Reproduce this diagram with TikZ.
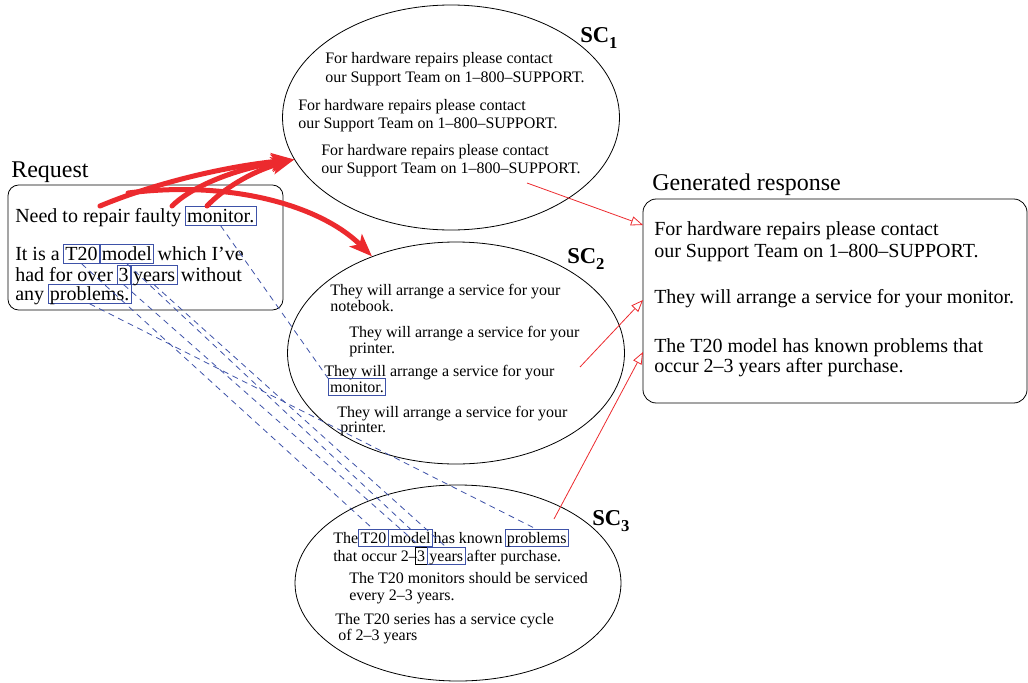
\documentclass[tikz,border=0pt]{standalone}
\usepackage{fontspec}
\setmainfont{Liberation Serif}
\usetikzlibrary{positioning,shapes.geometric,arrows.meta}

\definecolor{kwblue}{RGB}{62,82,168}
\definecolor{hotred}{RGB}{236,42,46}

\newcommand{\reqfont}{\fontsize{15}{16}\selectfont}
\newcommand{\scfont}{\fontsize{12}{13}\selectfont}
\newcommand{\headfont}{\fontsize{18}{20}\selectfont}
\newcommand{\sclabel}[1]{\fontsize{17}{20}\selectfont\bfseries SC\raisebox{-5pt}{\fontsize{12.5}{13}\selectfont #1}}

\tikzset{
  wrd/.style={inner sep=0pt, anchor=base west},
  kw/.style={draw=kwblue, line width=0.6pt, inner xsep=1.3pt, inner ysep=1.5pt, anchor=base west},
  qkw/.style={kw, text height=10.5pt, text depth=1pt},
  skw/.style={kw, text height=8.5pt, text depth=1pt},
  cluster/.style={draw, ellipse, line width=0.6pt, inner sep=0pt},
  panel/.style={draw, rounded corners=8pt, line width=0.6pt, inner sep=0pt},
  pick/.style={hotred, line width=3.75pt, line cap=round, -{Stealth[length=17pt,width=13pt,inset=4pt]}},
  feed/.style={hotred, line width=0.6pt, -{Triangle[open,length=9pt,width=7pt]}},
  match/.style={kwblue, line width=0.6pt, dash pattern=on 4.5pt off 3.5pt}
}

\begin{document}
\begin{tikzpicture}[x=0.75pt, y=-0.75pt]
\useasboundingbox (0,0) rectangle (1028,682);

% sentence clusters
\node (sc1) [cluster, minimum width=252.75pt, minimum height=168.75pt] at (451,117.5) {};
\node (sc2) [cluster, minimum width=252.75pt, minimum height=166.5pt] at (456,353) {};
\node (sc3) [cluster, minimum width=244.5pt, minimum height=147pt] at (458,583) {};
\node (lab1) [wrd] at (580,42) {\sclabel{1}};
\node (lab2) [wrd] at (567,263) {\sclabel{2}};
\node (lab3) [wrd] at (592,525) {\sclabel{3}};

% request and response
\node (req) [panel, minimum width=206.25pt, minimum height=93.75pt] at (145.5,247.5) {};
\node (reqt) [wrd, font=\headfont] at (11,177) {Request};
\node (resp) [panel, rounded corners=10pt, minimum width=288pt, minimum height=153pt] at (835,301) {};
\node (respt) [wrd, font=\headfont] at (652,190) {Generated response};

\begin{scope}[every node/.append style={font=\reqfont}]
\node (q1) [wrd] at (15,222) {Need to repair faulty};
\node (qmon) [qkw, base right=2.5pt of q1] {monitor.};
\node (q2) [wrd] at (15,260) {It is a};
\node (qtw) [qkw, base right=2.5pt of q2] {T20};
\node (qmod) [qkw, base right=0pt of qtw] {model};
\node (q2e) [wrd, base right=2.5pt of qmod] {which I've};
\node (q3) [wrd] at (15,281) {had for over};
\node (qthr) [qkw, base right=2.5pt of q3] {3};
\node (qyrs) [qkw, base right=0pt of qthr] {years};
\node (q3e) [wrd, base right=2.5pt of qyrs] {without};
\node (q4) [wrd] at (15,300) {any};
\node (qprob) [qkw, base right=2.5pt of q4] {problems.};

\node (r1) [wrd] at (654,235) {For hardware repairs please contact};
\node (r2) [wrd] at (654,257) {our Support Team on 1--800--SUPPORT.};
\node (r3) [wrd] at (654,303) {They will arrange a service for your monitor.};
\node (r4) [wrd] at (654,352) {The T20 model has known problems that};
\node (r5) [wrd] at (654,372) {occur 2--3 years after purchase.};
\end{scope}

\begin{scope}[every node/.append style={font=\scfont}]
\node (s1a) [wrd] at (325,63) {For hardware repairs please contact};
\node (s1b) [wrd] at (325,82) {our Support Team on 1--800--SUPPORT.};
\node (s1c) [wrd] at (298,110) {For hardware repairs please contact};
\node (s1d) [wrd] at (298,128) {our Support Team on 1--800--SUPPORT.};
\node (s1e) [wrd] at (321,155) {For hardware repairs please contact};
\node (s1f) [wrd] at (321,173) {our Support Team on 1--800--SUPPORT.};

\node (s2a) [wrd] at (330,295) {They will arrange a service for your};
\node (s2b) [wrd] at (330,311) {notebook.};
\node (s2c) [wrd] at (349,337) {They will arrange a service for your};
\node (s2d) [wrd] at (349,353) {printer.};
\node (s2e) [wrd] at (324,376) {They will arrange a service for your};
\node (smon) [skw] at (328,392) {monitor.};
\node (s2f) [wrd] at (337,417) {They will arrange a service for your};
\node (s2g) [wrd] at (340,432) {printer.};

\node (s3a) [wrd] at (333,543) {The};
\node (stw) [skw, base right=0pt of s3a] {T20};
\node (smod) [skw, base right=0pt of stw] {model};
\node (s3b) [wrd, base right=0.5pt of smod] {has known};
\node (sprob) [skw, base right=1.5pt of s3b] {problems};
\node (s3c) [wrd] at (333,561) {that occur 2--};
\node (sthr) [skw, draw=black, base right=-1.5pt of s3c] {3};
\node (syrs) [skw, base right=0pt of sthr] {years};
\node (s3d) [wrd, base right=1pt of syrs] {after purchase.};
\node (s3e) [wrd] at (349,583) {The T20 monitors should be serviced};
\node (s3f) [wrd] at (349,600) {every 2--3 years.};
\node (s3g) [wrd] at (335,624) {The T20 series has a service cycle};
\node (s3h) [wrd] at (338,640) {of 2--3 years};
\end{scope}

% word matches
\draw[match] (qmon.south) -- (smon.north west);
\draw[match] (qtw.south) -- (stw.north);
\draw[match] (qmod.south) -- (smod.north);
\draw[match] (qthr.south) -- (sthr.north);
\draw[match] (qyrs.south) -- (syrs.north);
\draw[match] (qprob.south) -- (sprob.north);

% selected sentences
\coordinate (f1) at (527,183);
\coordinate (f2) at (580,367);
\coordinate (f3) at (554,519);
\coordinate (g1) at (643,225);
\coordinate (g2) at (643,300);
\coordinate (g3) at (643,352);
\draw[feed] (f1) -- (g1);
\draw[feed] (f2) -- (g2);
\draw[feed] (f3) -- (g3);

% request to clusters
\coordinate (a1) at (100,206);
\coordinate (a2) at (172,206);
\coordinate (a3) at (207,206);
\coordinate (a4) at (128,193);
\draw[pick] (a1) .. controls (150,185) and (220,167) .. (sc1.195);
\draw[pick] (a2) .. controls (190,188) and (230,170) .. (sc1.195);
\draw[pick] (a3) .. controls (222,190) and (250,172) .. (sc1.195);
\draw[pick] (a4) .. controls (230,180) and (320,205) .. (sc2.131);
\end{tikzpicture}
\end{document}
